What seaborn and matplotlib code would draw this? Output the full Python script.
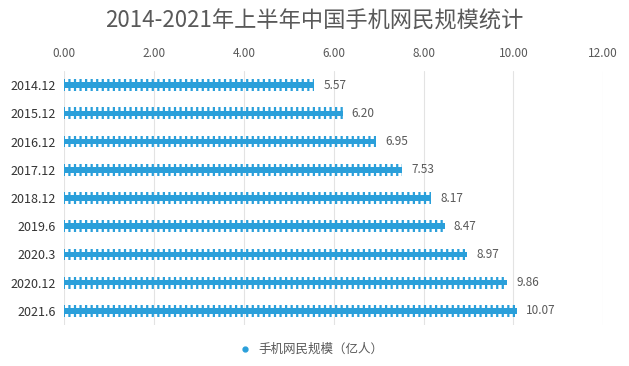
import numpy as np
import pandas as pd
import matplotlib
matplotlib.use('Agg')
import matplotlib.pyplot as plt
import seaborn as sns
from matplotlib.lines import Line2D

# 数据
periods = ['2014.12', '2015.12', '2016.12', '2017.12', '2018.12',
           '2019.6', '2020.3', '2020.12', '2021.6']
users = [5.57, 6.20, 6.95, 7.53, 8.17, 8.47, 8.97, 9.86, 10.07]
x_ticks = [0, 2, 4, 6, 8, 10, 12]

df = pd.DataFrame({'period': periods, 'users': users})

sns.set_theme(style='white')
plt.rcParams['font.family'] = ['Noto Sans CJK SC', 'DejaVu Sans']
plt.rcParams['hatch.linewidth'] = 1.6

blue = '#2a9fda'
gray = '#595959'

fig = plt.figure(figsize=(6.29, 3.66), dpi=100)
ax = fig.add_axes([0.102, 0.112, 0.857, 0.694])

# 带竖纹的外层
sns.barplot(data=df, x='users', y='period', orient='h', width=0.42,
            color=blue, ax=ax)
for p in ax.patches:
    p.set_facecolor('none')
    p.set_edgecolor(blue)
    p.set_linewidth(0)
    p.set_hatch('|||')
n = len(ax.patches)
# 中间实心条
sns.barplot(data=df, x='users', y='period', orient='h', width=0.2,
            color=blue, ax=ax, saturation=1)
for p in ax.patches[n:]:
    p.set_facecolor(blue)
    p.set_linewidth(0)

for i, v in enumerate(users):
    ax.text(v + 0.2, i, f'{v:.2f}', va='center', ha='left',
            fontsize=8.5, color=gray)

ax.set_xlim(0, 12)
ax.set_ylim(8.5, -0.5)
ax.set_xticks(x_ticks)
ax.set_xticklabels([f'{t:.2f}' for t in x_ticks], fontsize=8.5, color=gray)
ax.xaxis.tick_top()
ax.tick_params(axis='x', length=0, pad=8)
ax.tick_params(axis='y', length=0, pad=6, labelsize=9, labelcolor='#333333')
ax.set_xlabel('')
ax.set_ylabel('')
ax.grid(axis='x', color='#e3e3e3', linewidth=0.8)
ax.set_axisbelow(True)
for s in ax.spines.values():
    s.set_visible(False)

fig.suptitle('2014-2021年上半年中国手机网民规模统计', y=0.975,
             fontsize=16, color=gray)

handle = Line2D([], [], marker='o', color=blue, linestyle='none', markersize=3.5)
fig.legend([handle], ['手机网民规模（亿人）'], loc='center',
           bbox_to_anchor=(0.49, 0.045), frameon=False, fontsize=9,
           handletextpad=0.1, labelcolor=gray)

fig.savefig('out.png', dpi=100)
